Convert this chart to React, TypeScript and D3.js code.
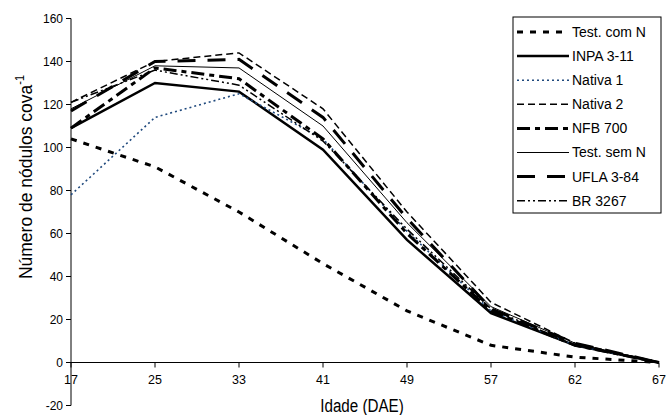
import React from "react";
import { scaleLinear, scalePoint, line } from "d3";

// Idade (DAE) - categorias do eixo x
const idades = ["17", "25", "33", "41", "49", "57", "62", "67"];
const yTicks = [-20, 0, 20, 40, 60, 80, 100, 120, 140, 160];

// nodulos por cova
const testComN = [104, 91, 70, 46, 24, 8, 2.5, 0];
const inpa311 = [109, 130, 126, 99, 57, 23, 8, 0];
const nativa1 = [78, 114, 125, 104, 61, 24, 8, 0];
const nativa2 = [121, 140, 144, 118, 70, 28, 9, 0];
const nfb700 = [109, 137, 132, 104, 60, 24, 8, 0];
const testSemN = [118, 138, 137, 110, 65, 26, 9, 0];
const ufla384 = [117, 140, 141, 114, 67, 25, 9, 0];
const br3267 = [121, 136, 129, 103, 62, 25, 8, 0];

const seriesNames = ["Test. com N", "INPA 3-11", "Nativa 1", "Nativa 2", "NFB 700", "Test. sem N", "UFLA 3-84", "BR 3267"];
const seriesValues = [testComN, inpa311, nativa1, nativa2, nfb700, testSemN, ufla384, br3267];

// estilo de cada linha (mesma ordem)
const styles = [
  { color: "#000", width: 3, dash: "6,7" },
  { color: "#000", width: 2.5, dash: "" },
  { color: "#1F497D", width: 1.6, dash: "2,3" },
  { color: "#000", width: 1.5, dash: "7,4" },
  { color: "#000", width: 3, dash: "13,5,5,5" },
  { color: "#000", width: 1, dash: "" },
  { color: "#000", width: 3, dash: "18,12" },
  { color: "#000", width: 1.5, dash: "8,3,2,3,2,3" },
];

const width = 667;
const height = 415;
const font = "'Liberation Sans', Arial, sans-serif";

export default function App() {
  const xScale = scalePoint<string>().domain(idades).range([71, 659]);
  const yScale = scaleLinear().domain([-20, 160]).range([405.5, 18.5]);

  const lineGen = line<number>()
    .x((d, i) => xScale(idades[i]) as number)
    .y((d) => yScale(d));

  const x0 = 71;
  const legendX = 513;
  const legendY = 17;
  const rowH = 24.1;

  return (
    <svg
      width={width}
      height={height}
      style={{ position: "absolute", left: 0, top: 0, background: "#fff" }}
    >
      {/* eixo y */}
      <line x1={x0} x2={x0} y1={yScale(160)} y2={yScale(-20)} stroke="#000" strokeWidth={1} />
      {yTicks.map((t) => (
        <g key={t} transform={`translate(0, ${yScale(t)})`}>
          <line x1={x0 - 5} x2={x0} stroke="#000" />
          <text x={x0 - 8} dy="0.35em" textAnchor="end" fontFamily={font} fontSize={12}>
            {t}
          </text>
        </g>
      ))}
      {/* eixo x na linha do zero */}
      <line x1={x0} x2={xScale("67")} y1={yScale(0)} y2={yScale(0)} stroke="#000" />
      {idades.map((d) => (
        <g key={d} transform={`translate(${xScale(d)}, ${yScale(0)})`}>
          <line y2={5} stroke="#000" />
          <text y={21} textAnchor="middle" fontFamily={font} fontSize={12.5}>
            {d}
          </text>
        </g>
      ))}
      {/* titulos com fonte estreita */}
      <text
        transform="translate(362, 412) scale(0.8, 1)"
        textAnchor="middle"
        fontFamily={font}
        fontSize={19}
      >
        Idade (DAE)
      </text>
      <text
        transform="translate(32, 177) rotate(-90) scale(0.92, 1)"
        textAnchor="middle"
        fontFamily={font}
        fontSize={19}
      >
        Número de nódulos cova
        <tspan dy={-8} fontSize={12}>-1</tspan>
      </text>

      {/* linhas */}
      {seriesValues.map((vals, i) => (
        <path
          key={seriesNames[i]}
          d={lineGen(vals) || ""}
          fill="none"
          stroke={styles[i].color}
          strokeWidth={styles[i].width}
          strokeDasharray={styles[i].dash}
        />
      ))}

      {/* legenda */}
      <rect x={legendX} y={legendY} width={148} height={196} fill="#fff" stroke="#000" strokeWidth={1} />
      {seriesNames.map((name, i) => {
        const y = legendY + 15 + i * rowH;
        return (
          <g key={name}>
            <line
              x1={legendX + 4}
              x2={legendX + 56}
              y1={y}
              y2={y}
              stroke={styles[i].color}
              strokeWidth={styles[i].width}
              strokeDasharray={styles[i].dash}
            />
            <text x={legendX + 59} y={y} dy="0.35em" fontFamily={font} fontSize={14}>
              {name}
            </text>
          </g>
        );
      })}
    </svg>
  );
}
